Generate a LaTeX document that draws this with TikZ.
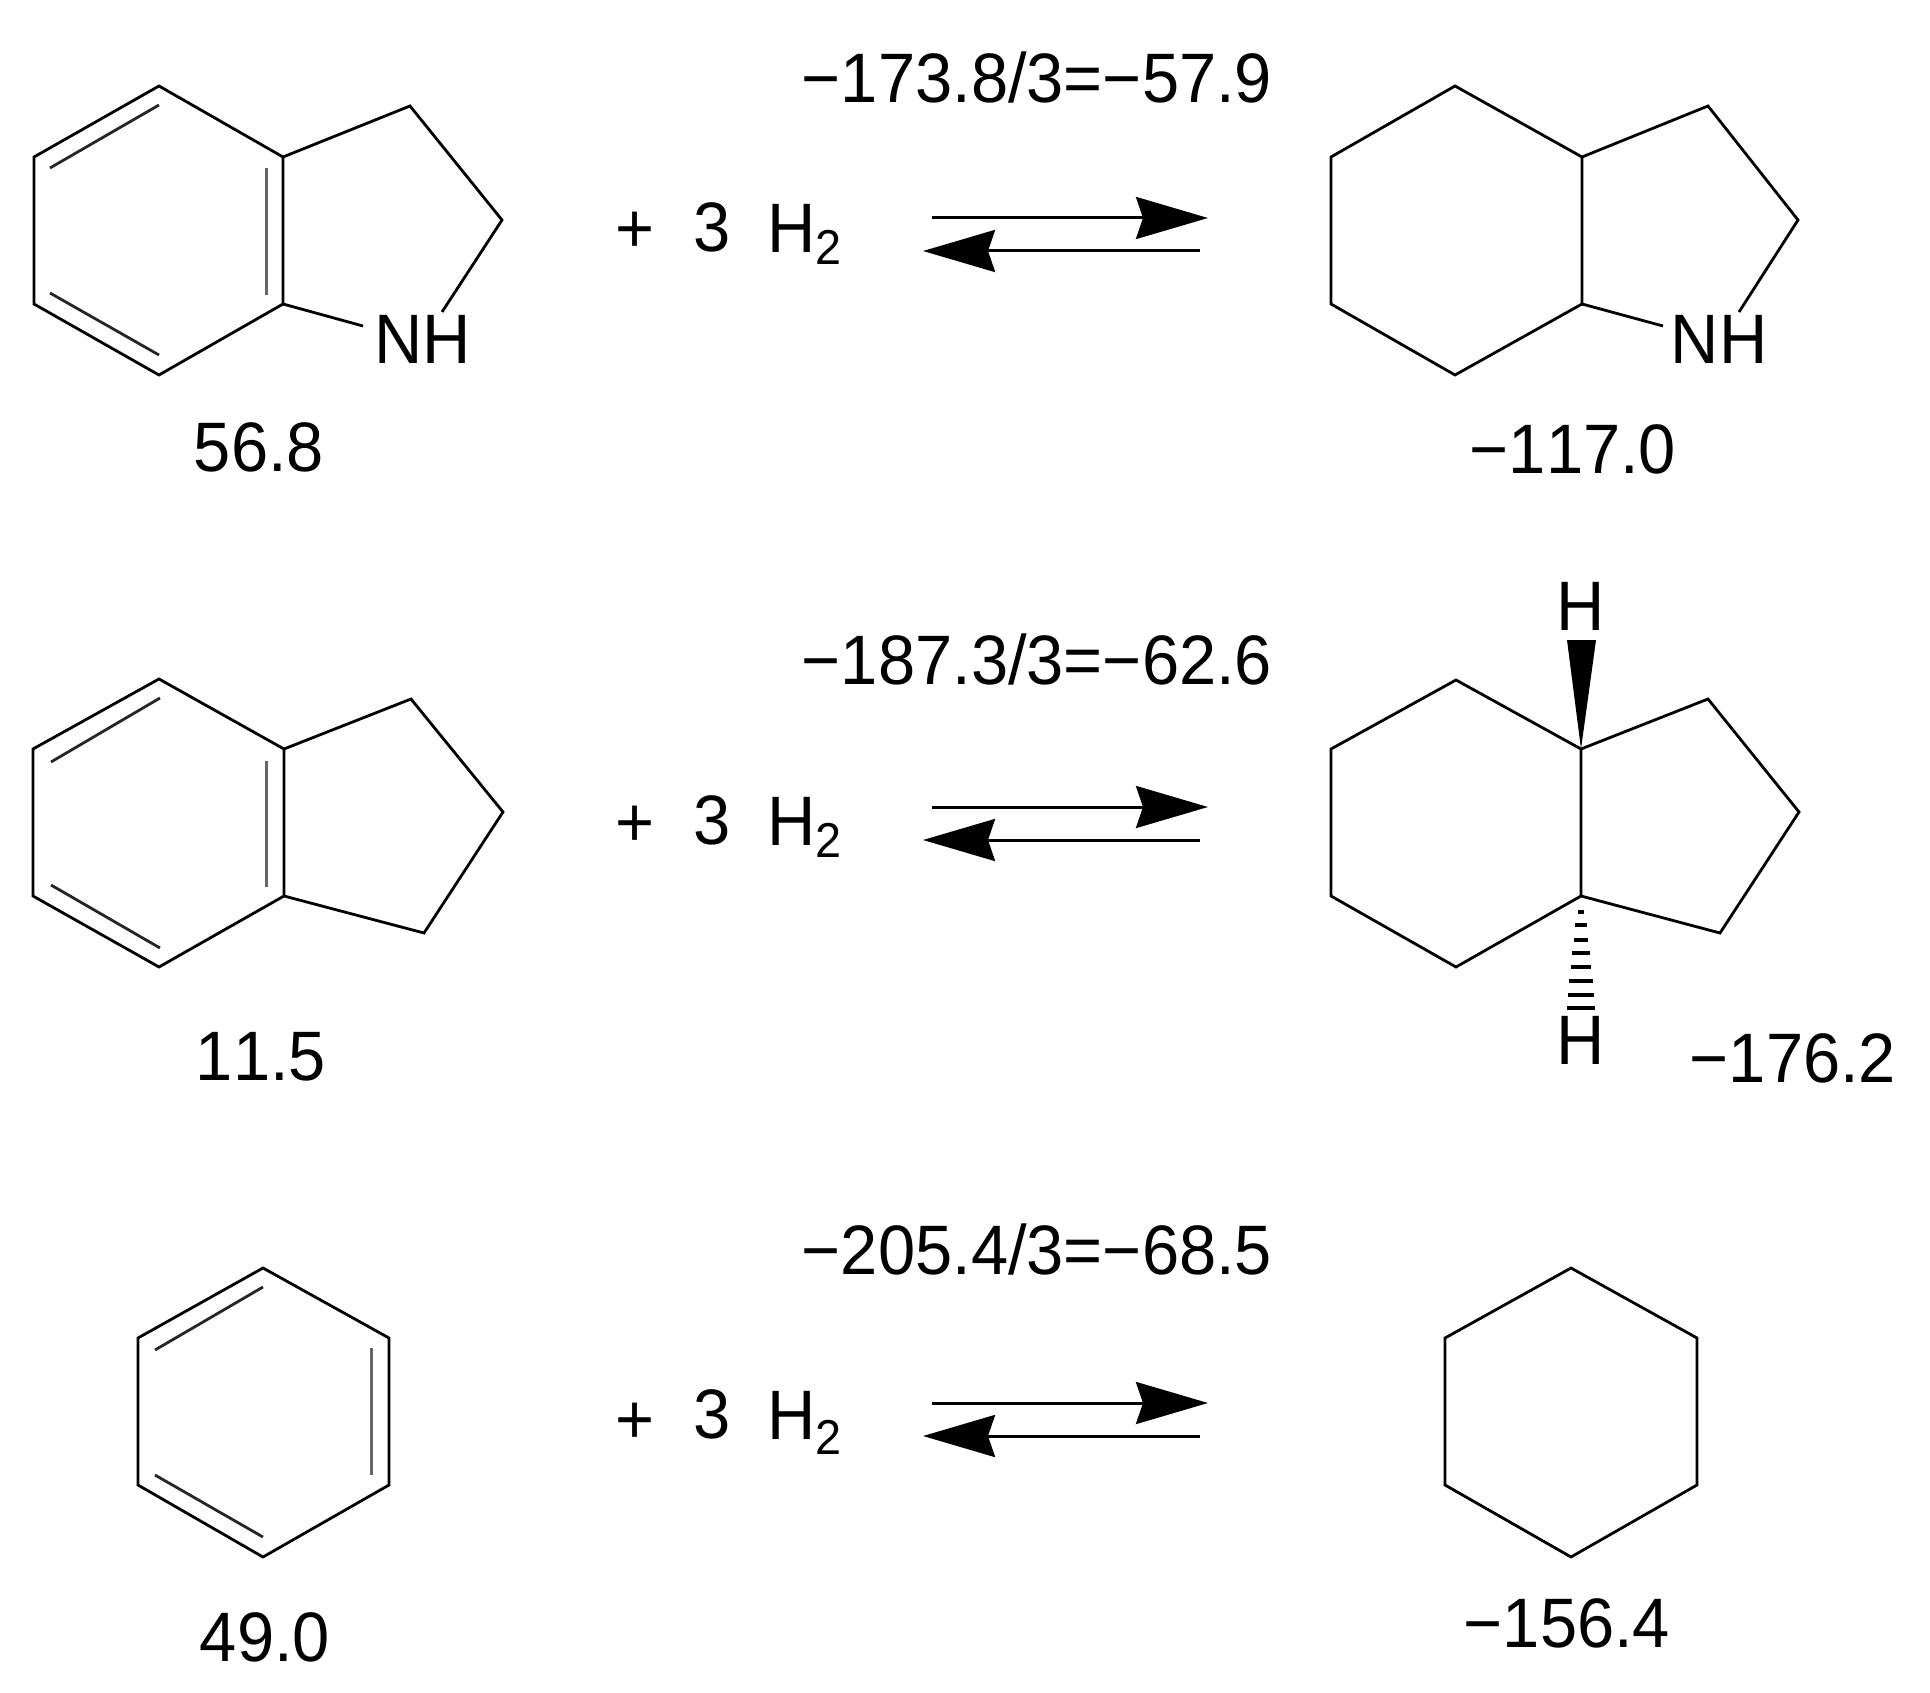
\documentclass[tikz,border=0pt]{standalone}
\usepackage{fontspec}
\setmainfont[FakeStretch=0.955,Kerning=Off]{Liberation Sans}
\usetikzlibrary{arrows.meta}
\begin{document}
\begin{tikzpicture}[x=1pt, y=-1pt, font=\fontsize{70}{70}\selectfont,
  bond/.style = {line width=2.8pt, line join=miter},
  inner/.style = {line width=2.8pt, black!85},
  innerv/.style = {line width=3pt, black!60},
  label/.style = {inner sep=0pt, anchor=center},
  sub/.style = {inner sep=0pt, anchor=center, font=\fontsize{49}{49}\selectfont},
  arrowline/.style = {line width=3pt, -{Stealth[length=72pt, width=42pt, inset=7pt]}}]
\useasboundingbox (0,0) rectangle (1930,1693);

% indoline
\coordinate (a1) at (159,86);
\coordinate (a2) at (34,157);
\coordinate (a3) at (34,304);
\coordinate (a4) at (159,375);
\coordinate (a5) at (283,304);
\coordinate (a6) at (283,157);
\coordinate (a7) at (410,106);
\coordinate (a8) at (502,220);
\coordinate (a9) at (442,312);
\coordinate (a10) at (363,326);
\node[label] (nh1) at (423,339) {NH};
\node[label] (e1) at (259,447) {56.8};
\draw[bond] (a6) -- (a1) -- (a2) -- (a3) -- (a4) -- (a5) -- (a6) -- (a7) -- (a8) -- (a9);
\draw[bond] (a5) -- (a10);
\draw[inner] (50,168) -- (159,105);
\draw[inner] (50,293) -- (159,355);
\draw[innerv] (266,168) -- (266,295);

% octahydroindole
\coordinate (b1) at (1455,86);
\coordinate (b2) at (1331,157);
\coordinate (b3) at (1331,304);
\coordinate (b4) at (1455,375);
\coordinate (b5) at (1582,304);
\coordinate (b6) at (1582,157);
\coordinate (b7) at (1708,106);
\coordinate (b8) at (1798,220);
\coordinate (b9) at (1739,312);
\coordinate (b10) at (1663,326);
\node[label] (nh2) at (1719,339) {NH};
\node[label] (e2) at (1573,449) {−117.0};
\draw[bond] (b6) -- (b1) -- (b2) -- (b3) -- (b4) -- (b5) -- (b6) -- (b7) -- (b8) -- (b9);
\draw[bond] (b5) -- (b10);

% indane
\coordinate (c1) at (159,679);
\coordinate (c2) at (33,749);
\coordinate (c3) at (33,896);
\coordinate (c4) at (159,967);
\coordinate (c5) at (284,896);
\coordinate (c6) at (284,749);
\coordinate (c7) at (411,699);
\coordinate (c8) at (503,812);
\coordinate (c9) at (424,933);
\node[label] (e3) at (261,1057) {11.5};
\draw[bond] (c6) -- (c1) -- (c2) -- (c3) -- (c4) -- (c5) -- (c6) -- (c7) -- (c8) -- (c9) -- (c5);
\draw[inner] (51,762) -- (160,698);
\draw[inner] (51,885) -- (160,948);
\draw[innerv] (266,761) -- (266,887);

% hydrindane
\coordinate (d1) at (1456,680);
\coordinate (d2) at (1331,749);
\coordinate (d3) at (1331,896);
\coordinate (d4) at (1456,967);
\coordinate (d5) at (1581,896);
\coordinate (d6) at (1581,749);
\coordinate (d7) at (1708,699);
\coordinate (d8) at (1799,812);
\coordinate (d9) at (1720,933);
\node[label] (h1) at (1581,606) {H};
\node[label] (h2) at (1581,1040) {H};
\node[label] (e4) at (1793,1058) {−176.2};
\draw[bond] (d6) -- (d1) -- (d2) -- (d3) -- (d4) -- (d5) -- (d6) -- (d7) -- (d8) -- (d9) -- (d5);
\fill (d6) -- (1567,640) -- (1596,640) -- cycle;
\draw[line width=3.6pt] (1578,912) -- (1584,912) (1575,925) -- (1587,925) (1574,940) -- (1588,940)
  (1572,953) -- (1590,953) (1571,967) -- (1591,967) (1569,981) -- (1593,981)
  (1568,995) -- (1594,995) (1567,1008) -- (1595,1008);

% benzene
\coordinate (f1) at (263,1268);
\coordinate (f2) at (138,1338);
\coordinate (f3) at (138,1485);
\coordinate (f4) at (263,1557);
\coordinate (f5) at (389,1485);
\coordinate (f6) at (389,1338);
\node[label] (e5) at (265,1637) {49.0};
\draw[bond] (f1) -- (f2) -- (f3) -- (f4) -- (f5) -- (f6) -- cycle;
\draw[inner] (155,1350) -- (263,1287);
\draw[inner] (155,1475) -- (263,1537);
\draw[innerv] (371,1348) -- (371,1475);

% cyclohexane
\coordinate (g1) at (1571,1268);
\coordinate (g2) at (1445,1338);
\coordinate (g3) at (1445,1485);
\coordinate (g4) at (1571,1557);
\coordinate (g5) at (1697,1485);
\coordinate (g6) at (1697,1338);
\node[label] (e6) at (1567,1623) {−156.4};
\draw[bond] (g1) -- (g2) -- (g3) -- (g4) -- (g5) -- (g6) -- cycle;

% reaction texts
\node[label] (r1) at (1037,77) {−173.8/3=−57.9};
\node[label] (r2) at (1037,659) {−187.3/3=−62.6};
\node[label] (r3) at (1037,1249) {−205.4/3=−68.5};
\node[label] (p1) at (635,232) {+};
\node[label] (n1) at (712,227) {3};
\node[label] (s1) at (792,228) {H};
\node[sub] (t1) at (829,247) {2};
\node[label] (p2) at (635,826) {+};
\node[label] (n2) at (712,820) {3};
\node[label] (s2) at (792,821) {H};
\node[sub] (t2) at (829,840) {2};
\node[label] (p3) at (635,1423) {+};
\node[label] (n3) at (712,1414) {3};
\node[label] (s3) at (792,1415) {H};
\node[sub] (t3) at (829,1437) {2};

% equilibrium arrows
\coordinate (u1) at (932,218);
\coordinate (u2) at (1208,218);
\coordinate (v1) at (1200,251);
\coordinate (v2) at (923,251);
\draw[arrowline] (u1) -- (u2);
\draw[arrowline] (v1) -- (v2);
\coordinate (u3) at (932,807);
\coordinate (u4) at (1208,807);
\coordinate (v3) at (1200,840);
\coordinate (v4) at (923,840);
\draw[arrowline] (u3) -- (u4);
\draw[arrowline] (v3) -- (v4);
\coordinate (u5) at (932,1403);
\coordinate (u6) at (1208,1403);
\coordinate (v5) at (1200,1436);
\coordinate (v6) at (923,1436);
\draw[arrowline] (u5) -- (u6);
\draw[arrowline] (v5) -- (v6);
\end{tikzpicture}
\end{document}
